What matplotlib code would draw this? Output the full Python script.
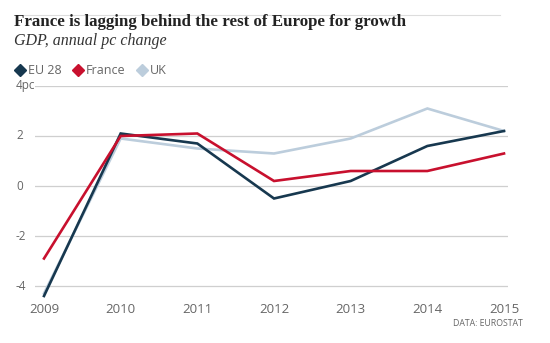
import matplotlib
matplotlib.use("Agg")
import matplotlib.pyplot as plt
from matplotlib.lines import Line2D

years = [2009, 2010, 2011, 2012, 2013, 2014, 2015]
eu28 = [-4.4, 2.1, 1.7, -0.5, 0.2, 1.6, 2.2]
france = [-2.9, 2.0, 2.1, 0.2, 0.6, 0.6, 1.3]
uk = [-4.3, 1.9, 1.5, 1.3, 1.9, 3.1, 2.2]
series_names = ["EU 28", "France", "UK"]
yticks = [-4, -2, 0, 2, 4]
ytick_labels = ["-4", "-2", "0", "2", "4pc"]

colors = {"EU 28": "#17384f", "France": "#c8102e", "UK": "#bccddc"}
tick_color = "#666666"
sans = ["Open Sans", "DejaVu Sans"]

fig = plt.figure(figsize=(5.5, 3.43), dpi=100)
ax = fig.add_axes([35/550, 47/343, 473/550, 210/343])

ax.plot(years, uk, color=colors["UK"], lw=1.9, solid_joinstyle="miter", clip_on=False, zorder=3)
ax.plot(years, eu28, color=colors["EU 28"], lw=1.9, solid_joinstyle="miter", clip_on=False, zorder=4)
ax.plot(years, france, color=colors["France"], lw=1.9, solid_joinstyle="miter", clip_on=False, zorder=5)

ax.set_xlim(2009 - 9/76.67, 2015 + 4/76.67)
ax.set_ylim(-4.4, 4.0)
for y in yticks:
    ax.axhline(y, color="#cfcfcf", lw=0.9, zorder=1)
for s in ax.spines.values():
    s.set_visible(False)
ax.set_yticks([])
ax.set_xticks(years)
ax.set_xticklabels([str(y) for y in years], fontsize=9.5, color=tick_color, family=sans)
ax.tick_params(axis="x", length=0, pad=5)

for y, lab in zip(yticks, ytick_labels):
    ax.text(16/550, ax.transData.transform((0, y))[1] / 343, lab,
            transform=fig.transFigure, ha="left", va="center",
            fontsize=8.5, color=tick_color, family=sans)

# title area
fig.add_artist(Line2D([14/550, 500/550], [1 - 15/343, 1 - 15/343], color="#dddddd", lw=0.8))
fig.text(14/550, 1 - 22/343, "France is lagging behind the rest of Europe for growth",
         ha="left", va="center", fontsize=12.2, fontweight="bold", family="Liberation Serif", color="#222222")
fig.text(14/550, 1 - 41/343, "GDP, annual pc change", ha="left", va="center",
         fontsize=11.5, style="italic", family="Liberation Serif", color="#333333")

# legend
legend_x = [20, 78, 142]
for name, lx in zip(series_names, legend_x):
    fig.add_artist(Line2D([lx/550], [1 - 70/343], marker="D", markersize=6, color=colors[name], lw=0))
    fig.text((lx + 8)/550, 1 - 70/343, name, ha="left", va="center", fontsize=9,
             color=tick_color, family=sans)

fig.text(523/550, 1 - 324/343, "DATA: EUROSTAT", ha="right", va="center",
         fontsize=6.3, color=tick_color, family=sans)

fig.savefig("out.png", dpi=100, facecolor="white")
